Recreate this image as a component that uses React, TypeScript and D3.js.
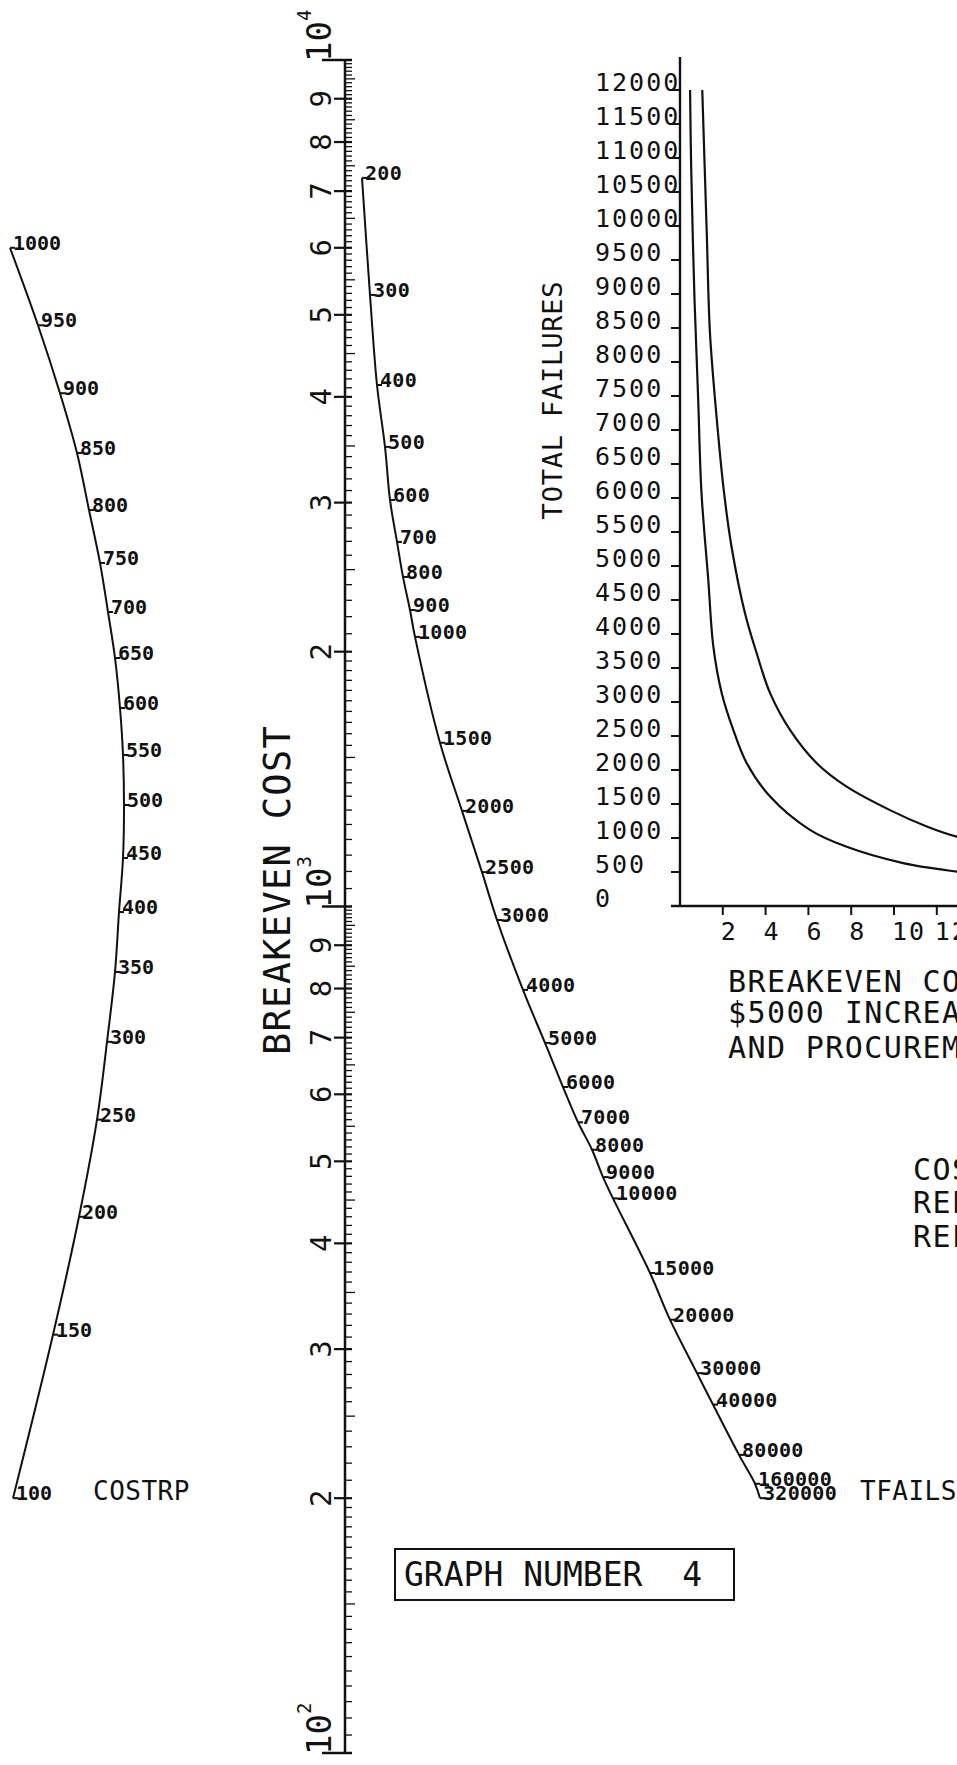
import React from "react";
import * as d3 from "d3";

const WIDTH = 957;
const HEIGHT = 1765;
const FONT = "'DejaVu Sans Mono', 'Liberation Mono', monospace";

// ---------- Central BREAKEVEN COST stem (log scale) ----------
const stemDomain = [100, 10000];
const stemDecades = [100, 1000, 10000];
const stemDecadeExponents = ["2", "3", "4"];
const stemMajorDigits = [2, 3, 4, 5, 6, 7, 8, 9];

// ---------- COSTRP curved scale ----------
// label value, horizontal offset from the stem (nomogram units), level read on the stem
const costrpLabels = [1000, 950, 900, 850, 800, 750, 700, 650, 600, 550, 500, 450, 400, 350, 300, 250, 200, 150, 100];
const costrpText = ["1000", "950", "900", "850", "800", "750", "700", "650", "600", "550", "500", "450", "400", "350", "300", "250", "200", "150", "100"];
const costrpOffset = [-33.5, -30.7, -28.5, -26.8, -25.6, -24.5, -23.7, -23.0, -22.5, -22.2, -22.1, -22.2, -22.6, -23.0, -23.8, -24.8, -26.6, -29.2, -33.2];
const costrpLevel = [6000, 4860, 4040, 3434, 2940, 2546, 2228, 1966, 1716, 1510, 1318, 1141, 985, 837, 692, 560, 430, 312, 200];

// ---------- TFAILS curved scale ----------
const tfailsLabels = [200, 300, 400, 500, 600, 700, 800, 900, 1000, 1500, 2000, 2500, 3000, 4000, 5000, 6000, 7000, 8000, 9000, 10000, 15000, 20000, 30000, 40000, 80000, 160000, 320000];
const tfailsOffset = [1.7, 2.5, 3.2, 4.0, 4.5, 5.2, 5.8, 6.5, 7.0, 9.5, 11.7, 13.7, 15.2, 17.8, 20.0, 21.8, 23.3, 24.7, 25.8, 26.8, 30.5, 32.5, 35.2, 36.8, 39.4, 41.0, 41.5];
const tfailsLevel = [7257, 5278, 4131, 3491, 3022, 2696, 2451, 2240, 2082, 1561, 1297, 1098, 964, 797, 690, 612, 556, 516, 479, 452, 369, 325, 281, 258, 225, 208, 200];

// ---------- Inset: TOTAL FAILURES vs BREAKEVEN COST ----------
const insetYTicks = [0, 500, 1000, 1500, 2000, 2500, 3000, 3500, 4000, 4500, 5000, 5500, 6000, 6500, 7000, 7500, 8000, 8500, 9000, 9500, 10000, 10500, 11000, 11500, 12000];
const insetXTicks = [2, 4, 6, 8, 10, 12, 14];
const lowerCurveX = [0.47, 0.52, 0.68, 0.85, 1.0, 1.32, 1.56, 1.95, 2.49, 3.12, 4.21, 6.07, 7.79, 10.43, 12.93, 14.5];
const lowerCurveY = [12000, 10900, 8900, 7450, 6100, 4800, 3810, 3130, 2590, 2100, 1610, 1120, 870, 630, 505, 450];
const upperCurveX = [1.04, 1.25, 1.4, 1.71, 2.05, 2.41, 3.04, 3.58, 4.21, 5.14, 6.39, 7.79, 9.81, 11.53, 12.93, 14.5];
const upperCurveY = [12000, 9900, 8430, 7190, 6100, 5280, 4300, 3720, 3130, 2590, 2100, 1755, 1410, 1170, 1020, 920];

const titleLines = ["BREAKEVEN COST VS TOTAL FAILURES", "$5000 INCREASE IN DEVELOPMENT", "AND PROCUREMENT COSTS"];
const noteLines = ["COSTRP = REPAIR COST", "REPAIR CYCLE", "RELIABILITY"];

export default function App() {
  const yStem = d3.scaleLog().domain(stemDomain).range([1753, 60]);
  const xNomo = d3.scaleLinear().domain([0, 10]).range([345, 445]);
  const xInset = d3.scaleLinear().domain([0, 10]).range([680, 894]);
  const yInset = d3.scaleLinear().domain([0, 12000]).range([906, 90]);
  const stemX = xNomo(0);

  // minor ticks on stem
  const minorTicks: { v: number; half: boolean }[] = [];
  [100, 1000].forEach((dec) => {
    for (let k = 105; k < 200; k += 5) minorTicks.push({ v: (dec * k) / 100, half: k === 150 });
    for (let k = 21; k < 100; k++) {
      if (k % 10 !== 0) minorTicks.push({ v: (dec * k) / 10, half: k % 5 === 0 });
    }
  });
  const majorTicks: { v: number; d: number }[] = [];
  [100, 1000].forEach((dec) => stemMajorDigits.forEach((d) => majorTicks.push({ v: dec * d, d })));

  const line = d3
    .line<[number, number]>()
    .x((p) => p[0])
    .y((p) => p[1])
    .curve(d3.curveCatmullRom.alpha(0.5));

  const costrpPts: [number, number][] = costrpLabels.map((_, i) => [xNomo(costrpOffset[i]), yStem(costrpLevel[i])]);
  const tfailsPts: [number, number][] = tfailsLabels.map((_, i) => [xNomo(tfailsOffset[i]), yStem(tfailsLevel[i])]);
  const lowerPts: [number, number][] = lowerCurveX.map((x, i) => [xInset(x), yInset(lowerCurveY[i])]);
  const upperPts: [number, number][] = upperCurveX.map((x, i) => [xInset(x), yInset(upperCurveY[i])]);

  const ink = "#111";

  return (
    <svg
      width={WIDTH}
      height={HEIGHT}
      viewBox={`0 0 ${WIDTH} ${HEIGHT}`}
      style={{ position: "absolute", left: 0, top: 0, background: "#fff" }}
      fontFamily={FONT}
    >
      <rect x={0} y={0} width={WIDTH} height={HEIGHT} fill="#fff" />

      {/* ---------- central stem ---------- */}
      <line x1={stemX} y1={yStem(10000)} x2={stemX} y2={yStem(100)} stroke={ink} strokeWidth={2.5} />
      {minorTicks.map((t, i) => (
        <line key={"mi" + i} x1={stemX} x2={stemX + (t.half ? 10 : 7)} y1={yStem(t.v)} y2={yStem(t.v)} stroke={ink} strokeWidth={1.3} />
      ))}
      {majorTicks.map((t, i) => (
        <g key={"ma" + i}>
          <line x1={stemX - 11} x2={stemX + 7} y1={yStem(t.v)} y2={yStem(t.v)} stroke={ink} strokeWidth={2.2} />
          <text
            transform={`translate(${stemX - 14},${yStem(t.v)}) rotate(-90)`}
            textAnchor="middle"
            fontSize={29}
            fill={ink}
          >
            {t.d}
          </text>
        </g>
      ))}
      {stemDecades.map((v, i) => (
        <g key={"dec" + i}>
          <line x1={stemX - 23} x2={stemX + 7} y1={yStem(v)} y2={yStem(v)} stroke={ink} strokeWidth={2.5} />
          <text transform={`translate(${stemX - 14},${yStem(v) + 2}) rotate(-90)`} fontSize={34} fill={ink}>
            10
            <tspan fontSize={19} dy={-20}>
              {stemDecadeExponents[i]}
            </tspan>
          </text>
        </g>
      ))}
      <text
        transform={`translate(290,890) rotate(-90)`}
        textAnchor="middle"
        fontSize={37}
        letterSpacing={1.3}
        fill={ink}
      >
        BREAKEVEN COST
      </text>

      {/* ---------- COSTRP curve ---------- */}
      <path d={line(costrpPts) || ""} fill="none" stroke={ink} strokeWidth={2} />
      {costrpPts.map((p, i) => (
        <g key={"cr" + i}>
          <line x1={p[0]} x2={p[0] + 5} y1={p[1]} y2={p[1]} stroke={ink} strokeWidth={2} />
          <text x={p[0] + 3} y={p[1] + 2} fontSize={20} fontWeight="bold" fill={ink}>
            {costrpText[i]}
          </text>
        </g>
      ))}
      <text x={93} y={1500} fontSize={26} letterSpacing={0.5} fill={ink}>
        COSTRP
      </text>

      {/* ---------- TFAILS curve ---------- */}
      <path d={line(tfailsPts) || ""} fill="none" stroke={ink} strokeWidth={2} />
      {tfailsPts.map((p, i) => (
        <g key={"tf" + i}>
          <line x1={p[0]} x2={p[0] + 5} y1={p[1]} y2={p[1]} stroke={ink} strokeWidth={2} />
          <text x={p[0] + 3} y={p[1] + 2} fontSize={20} fontWeight="bold" letterSpacing={0.3} fill={ink}>
            {tfailsLabels[i]}
          </text>
        </g>
      ))}
      <text x={860} y={1500} fontSize={26} letterSpacing={0.5} fill={ink}>
        TFAILS
      </text>

      {/* ---------- inset chart ---------- */}
      <line x1={xInset(0)} x2={xInset(0)} y1={57} y2={yInset(0)} stroke={ink} strokeWidth={2.4} />
      <line x1={xInset(0) - 9} x2={xInset(20)} y1={yInset(0)} y2={yInset(0)} stroke={ink} strokeWidth={2.4} />
      {insetYTicks.map((v, i) => (
        <g key={"iy" + i}>
          <line x1={xInset(0) - 9} x2={xInset(0)} y1={yInset(v)} y2={yInset(v)} stroke={ink} strokeWidth={2} />
          <text x={595} y={yInset(v) + 1} fontSize={25} letterSpacing={2} fill={ink}>
            {v}
          </text>
        </g>
      ))}
      {insetXTicks.map((v, i) => (
        <g key={"ix" + i}>
          <line x1={xInset(v)} x2={xInset(v)} y1={yInset(0)} y2={yInset(0) + 9} stroke={ink} strokeWidth={2} />
          <text x={xInset(v) - 2} y={940} fontSize={25} letterSpacing={2} fill={ink}>
            {v}
          </text>
        </g>
      ))}
      <path d={line(lowerPts) || ""} fill="none" stroke={ink} strokeWidth={2.2} />
      <path d={line(upperPts) || ""} fill="none" stroke={ink} strokeWidth={2.2} />
      <text
        transform={`translate(562,400) rotate(-90)`}
        textAnchor="middle"
        fontSize={27}
        letterSpacing={0.8}
        fill={ink}
      >
        TOTAL FAILURES
      </text>

      {/* ---------- titles ---------- */}
      {titleLines.map((t, i) => (
        <text key={"tl" + i} x={728} y={[992, 1023, 1058][i]} fontSize={30} letterSpacing={1.4} fill={ink}>
          {t}
        </text>
      ))}
      {noteLines.map((t, i) => (
        <text key={"nl" + i} x={913} y={[1180, 1213, 1247][i]} fontSize={30} letterSpacing={1.4} fill={ink}>
          {t}
        </text>
      ))}

      {/* ---------- graph number box ---------- */}
      <rect x={395} y={1549} width={339} height={51} fill="none" stroke={ink} strokeWidth={2} />
      <text x={404} y={1586} fontSize={33} fill={ink} style={{ whiteSpace: "pre" }}>
        {"GRAPH NUMBER  4"}
      </text>
    </svg>
  );
}
